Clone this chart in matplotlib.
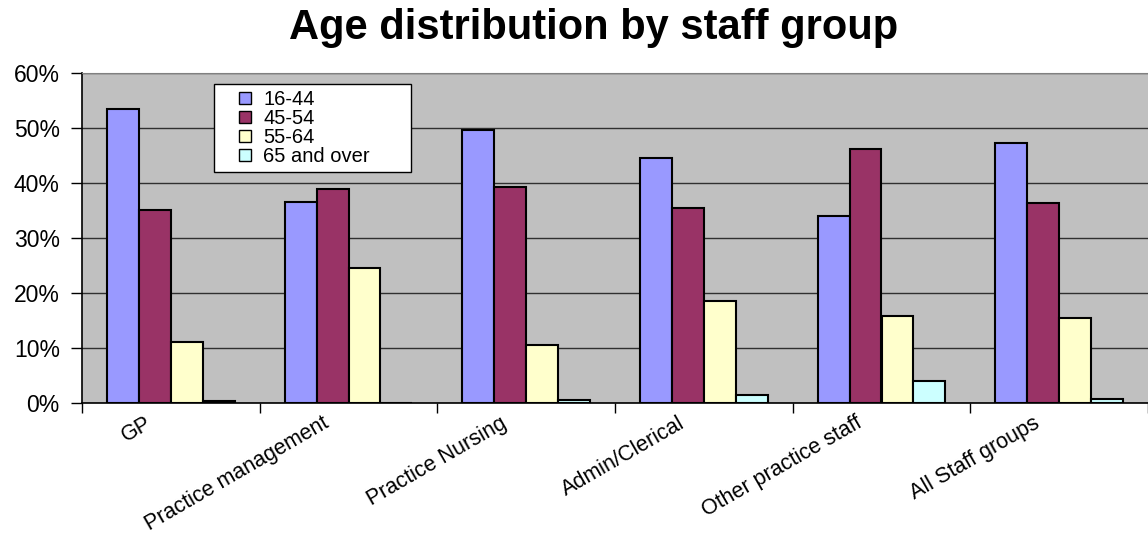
import matplotlib

matplotlib.use("Agg")

import matplotlib.pyplot as plt
import matplotlib.transforms as mtransforms
import numpy as np
from matplotlib.lines import Line2D
from matplotlib.ticker import FixedLocator, PercentFormatter

plt.rcParams["font.family"] = ["Liberation Sans", "DejaVu Sans"]

CATEGORIES = [
    "GP",
    "Practice management",
    "Practice Nursing",
    "Admin/Clerical",
    "Other practice staff",
    "All Staff groups",
]
AGE_BANDS = ["16-44", "45-54", "55-64", "65 and over"]

# percentage of staff in each age band, per staff group
AGE_16_44 = [53.5, 36.6, 49.6, 44.6, 34.0, 47.3]
AGE_45_54 = [35.1, 39.0, 39.3, 35.5, 46.1, 36.3]
AGE_55_64 = [11.1, 24.5, 10.5, 18.6, 15.9, 15.4]
AGE_65_UP = [0.3, 0.0, 0.5, 1.4, 4.0, 0.7]

BAND_COLORS = ["#9999FF", "#993366", "#FFFFCC", "#CCFFFF"]
BAR_WIDTH = 0.18

fig = plt.figure(figsize=(11.48, 5.38), dpi=100)
ax = fig.add_axes([82 / 1148, 1 - 403 / 538, 1 - 82 / 1148, 330 / 538])
ax.set_facecolor("#C0C0C0")

centers = np.arange(len(CATEGORIES)) + 0.5
series = [AGE_16_44, AGE_45_54, AGE_55_64, AGE_65_UP]
for i, (label, values, color) in enumerate(zip(AGE_BANDS, series, BAND_COLORS)):
    ax.bar(
        centers + (i - 1.5) * BAR_WIDTH,
        values,
        width=BAR_WIDTH,
        color=color,
        edgecolor="black",
        linewidth=1.5,
        label=label,
        zorder=3,
    )

ax.set_xlim(0, len(CATEGORIES))
ax.set_ylim(0, 60)
ax.set_yticks(np.arange(0, 61, 10))
ax.yaxis.set_major_formatter(PercentFormatter(decimals=0))
ax.yaxis.grid(True, color="#303030", linewidth=1.0, zorder=1)
ax.tick_params(axis="y", labelsize=16.5, length=8, width=1, pad=8, direction="out")

# category labels at the centres, tick marks at the boundaries
ax.set_xticks(centers)
ax.set_xticklabels(CATEGORIES, rotation=30, ha="right", rotation_mode="anchor")
ax.tick_params(axis="x", which="major", length=0, labelsize=15.5, pad=7)
ax.xaxis.set_minor_locator(FixedLocator(np.arange(0, len(CATEGORIES) + 1)))
ax.tick_params(axis="x", which="minor", length=7, width=1, direction="out")
shift = mtransforms.ScaledTranslation(-26 / 100, 0, fig.dpi_scale_trans)
for tick_label in ax.get_xticklabels():
    tick_label.set_transform(tick_label.get_transform() + shift)

for side in ("left", "bottom"):
    ax.spines[side].set_color("black")
    ax.spines[side].set_linewidth(1.2)
ax.spines["top"].set_color("#808080")
ax.spines["right"].set_visible(False)

handles = [
    Line2D([], [], linestyle="none", marker="s", markersize=8,
           markerfacecolor=color, markeredgecolor="black", markeredgewidth=1.0)
    for color in BAND_COLORS
]
legend = ax.legend(
    handles,
    AGE_BANDS,
    loc="upper left",
    bbox_to_anchor=(0.1238, 0.0, 0.1848, 0.967),
    mode="expand",
    borderaxespad=0,
    fontsize=14.5,
    frameon=True,
    fancybox=False,
    framealpha=1,
    edgecolor="black",
    handlelength=2.45,
    handletextpad=-0.3,
    labelspacing=0.0,
    borderpad=0.3,
)
legend.get_frame().set_linewidth(1.0)
legend.set_zorder(5)

fig.text(
    0.517,
    0.948,
    "Age distribution by staff group",
    ha="center",
    va="center",
    fontsize=30,
    fontweight="bold",
)

fig.savefig("out.png", dpi=100)
